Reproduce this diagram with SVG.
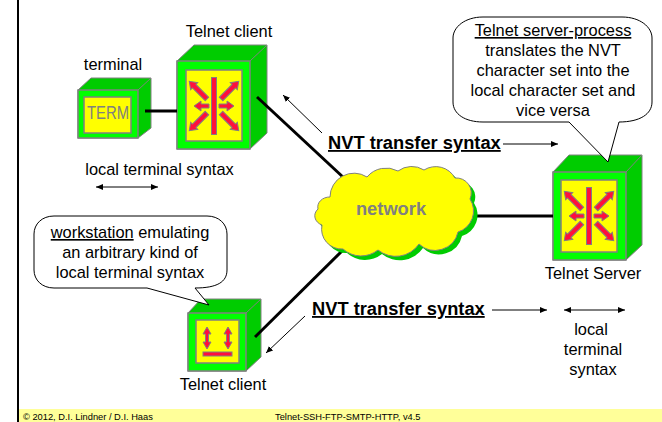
<svg xmlns="http://www.w3.org/2000/svg" width="662" height="422" viewBox="0 0 662 422">
<style>
text{font-family:"Liberation Sans",Arial,sans-serif;font-size:16.4px;fill:#000;text-anchor:middle}
.u{text-decoration:underline}
.b{font-weight:bold;font-size:18.3px;text-decoration:underline;text-anchor:start}
.f{font-size:9.3px;text-anchor:start}
.g{fill:#00cc00;stroke:#808080;stroke-width:1}
.l{fill:#00ff00;stroke:#808080;stroke-width:1.500}
.y{fill:#ffff00;stroke:#808080;stroke-width:1.500}
.ra{fill:#ff0f3c;stroke:#808080;stroke-width:1}
.c{fill:none;stroke:#000;stroke-width:3}
.t{fill:none;stroke:#000;stroke-width:1}
.bub{fill:#fff;stroke:#000;stroke-width:1}
</style>
<defs>
<marker id="a" viewBox="0 0 7 6" refX="7" refY="3" markerWidth="7" markerHeight="6" markerUnits="userSpaceOnUse" orient="auto-start-reverse"><path d="M0 0L7 3L0 6Z" fill="#000"/></marker>
<path id="hz" class="ra" d="M5-2H13V-5L20 0L13 5V2H5Z"/>
<path id="dg" class="ra" d="M10-2.500H28V-5L35 0L28 5V2.500H10Z"/>
<g id="burst">
<rect class="ra" x="-2.500" y="-28.500" width="5" height="57"/>
<use href="#hz"/>
<use href="#hz" transform="rotate(180)"/>
<use href="#dg" transform="rotate(45)"/>
<use href="#dg" transform="rotate(135)"/>
<use href="#dg" transform="rotate(225)"/>
<use href="#dg" transform="rotate(315)"/>
</g>
<path id="updown" class="ra" d="M0-11L4-4H1.500V4H4L0 11L-4 4H-1.500V-4H-4Z"/>
<path id="cl" d="M330 197A24 24 0 0 1 367 177A25 25 0 0 1 398 171A23 23 0 0 1 424 170A22 22 0 0 1 455 178A15 15 0 0 1 470 199A22 22 0 0 1 458 232A23.500 23.500 0 0 1 419 244A28 28 0 0 1 378 250A27 27 0 0 1 343 249A20 20 0 0 1 322 225A12 10 0 0 1 318 209A12 10 0 0 1 330 197Z"/>
</defs>
<rect x="19" y="409" width="643" height="13" fill="#ffff99"/>
<path d="M18 0V422" stroke="#000" stroke-width="2" fill="none"/>
<text class="f" x="23" y="420">© 2012, D.I. Lindner / D.I. Haas</text>
<text class="f" x="275" y="420">Telnet-SSH-FTP-SMTP-HTTP, v4.5</text>
<g id="terminal">
<path class="g" d="M78 90L91 78H151V128L138 138H78Z"/>
<path class="g" d="M138 90L151 78"/>
<rect class="l" x="78" y="90" width="60" height="48"/>
<rect class="y" x="84" y="97" width="47" height="36"/>
<text x="87" y="119" textLength="42" lengthAdjust="spacingAndGlyphs" style="font-size:18px;fill:#808080;text-anchor:start">TERM</text>
<text x="113" y="70">terminal</text>
</g>
<g id="client1">
<path class="g" d="M177 61L194 45H267V133L250 149H177Z"/>
<path class="g" d="M250 61L267 45"/>
<rect class="l" x="177" y="61" width="73" height="88"/>
<rect class="y" x="186" y="70" width="56" height="71"/>
<use href="#burst" x="214" y="106"/>
<text x="229" y="37">Telnet client</text>
</g>
<g id="client2">
<path class="g" d="M188 313L201 299H261V357L246 371H188Z"/>
<path class="g" d="M246 313L261 299"/>
<rect class="l" x="188" y="313" width="58" height="58"/>
<rect class="y" x="196" y="320" width="43" height="43"/>
<use href="#updown" x="207" y="338"/>
<use href="#updown" x="228" y="338"/>
<rect class="ra" x="203" y="352" width="29" height="4"/>
<text x="223" y="390">Telnet client</text>
</g>
<g id="server">
<path class="g" d="M553 172L569 155H642V245L626 260H553Z"/>
<path class="g" d="M626 172L642 155"/>
<rect class="l" x="553" y="172" width="73" height="88"/>
<rect class="y" x="561" y="180" width="56" height="72"/>
<use href="#burst" x="589" y="216"/>
<text x="593" y="279">Telnet Server</text>
</g>
<g id="connectors">
<path class="c" d="M145 111H177"/>
<path class="c" d="M257 97L344 178"/>
<path class="c" d="M255 337L343 250"/>
<path class="c" d="M476 216H553"/>
<path class="t" d="M322 133L283 95" marker-end="url(#a)"/>
<path class="t" d="M503 144H558" marker-end="url(#a)"/>
<path class="t" d="M96 187H158" marker-start="url(#a)" marker-end="url(#a)"/>
<path class="t" d="M305 316L266 353" marker-end="url(#a)"/>
<path class="t" d="M492 310H547" marker-end="url(#a)"/>
<path class="t" d="M564 310H625" marker-start="url(#a)" marker-end="url(#a)"/>
</g>
<g id="cloud">
<use href="#cl" fill="#00cc00" transform="translate(4 4)"/>
<use href="#cl" fill="#ffff00" stroke="#808080"/>
<text x="391" y="215" style="font-weight:bold;font-size:18.3px;fill:#808080">network</text>
</g>
<text x="159.500" y="175">local terminal syntax</text>
<g id="callout1">
<path class="bub" d="M54 216H207C219 216 227 224 227 234V270C227 282 217 288 195 288L209 305L147 288H54C42 288 34 280 34 270V234C34 224 42 216 54 216Z"/>
<text x="130" y="238"><tspan class="u">workstation</tspan> emulating</text>
<text x="130" y="258">an arbitrary kind of</text>
<text x="130" y="278">local terminal syntax</text>
</g>
<g id="callout2">
<path class="bub" d="M483 17H622C640 17 652 27 652 38V102C652 114 640 122 619 122L608 162L569 122H483C465 122 453 114 453 102V38C453 27 465 17 483 17Z"/>
<text x="553" y="36" class="u">Telnet server-process</text>
<text x="553" y="56">translates the NVT</text>
<text x="553" y="76">character set into the</text>
<text x="553" y="96">local character set and</text>
<text x="553" y="116">vice versa</text>
</g>
<text class="b" x="328" y="149">NVT transfer syntax</text>
<text class="b" x="312" y="315">NVT transfer syntax</text>
<text x="591" y="335">local</text>
<text x="593" y="355">terminal</text>
<text x="593" y="375">syntax</text>
</svg>
